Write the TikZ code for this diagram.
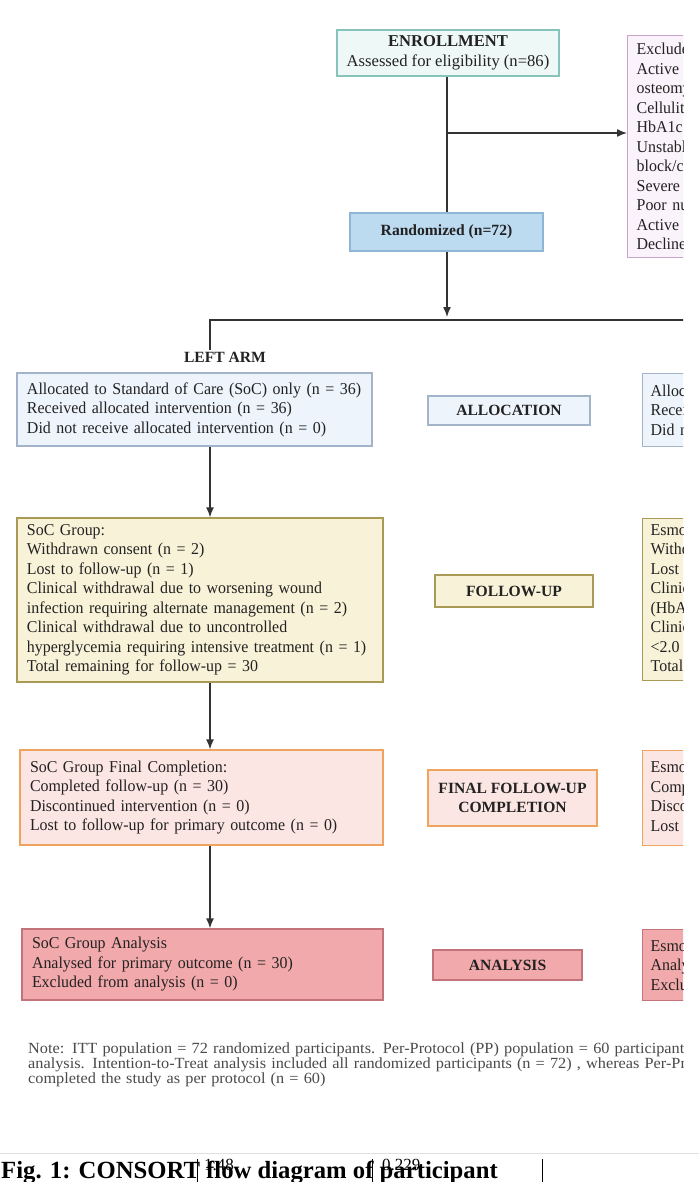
\documentclass[tikz,border=0pt]{standalone}
\usepackage{fontspec}
\setmainfont{Liberation Serif}
\newfontfamily\notefam[FakeStretch=1.05]{Liberation Serif}
\newfontfamily\bodyfam[FakeStretch=0.96]{Liberation Serif}
\usetikzlibrary{arrows.meta,calc}
\definecolor{enrF}{HTML}{EEF8F6}\definecolor{enrD}{HTML}{86C4BB}
\definecolor{excF}{HTML}{FBF3FB}\definecolor{excD}{HTML}{C9A3CB}
\definecolor{ranF}{HTML}{BCDAF0}\definecolor{ranD}{HTML}{8FB6D6}
\definecolor{allF}{HTML}{EEF4FC}\definecolor{allD}{HTML}{A3B3C9}
\definecolor{folF}{HTML}{F8F3D8}\definecolor{folD}{HTML}{A99B56}
\definecolor{finF}{HTML}{FCE6E3}\definecolor{finD}{HTML}{EEA45E}
\definecolor{anaF}{HTML}{F2A9AB}\definecolor{anaD}{HTML}{C2747A}
\definecolor{linec}{HTML}{333333}
\definecolor{notec}{HTML}{4A4A4A}
\definecolor{txtc}{HTML}{222222}
\newcommand{\bodyfont}{\bodyfam\fontsize{16.6}{19.5}\selectfont}
\newcommand{\enrfont}{\fontsize{16.6}{19.5}\selectfont}
\newcommand{\labfont}{\fontsize{15.6}{18.5}\selectfont\bfseries}
\newcommand{\notefont}{\notefam\fontsize{15.5}{14.8}\selectfont}
\begin{document}
\begin{tikzpicture}[x=1pt,y=-1pt,
  box/.style={draw, line width=1.3pt, inner xsep=0pt, inner ysep=0pt, align=left, font=\bodyfont, text=txtc},
  rbox/.style={draw, line width=1.3pt, anchor=north west, inner xsep=8pt, inner ysep=0pt, text width=140, align=left, font=\bodyfont, text=txtc},
  lab/.style={draw, line width=1.3pt, inner sep=0pt, align=center, font=\labfont, text=txtc},
  arr/.style={draw=linec, line width=1.4pt, -{Latex[length=10pt,width=8pt]}},
  ln/.style={draw=linec, line width=1.4pt}]
\useasboundingbox (0,0) rectangle (699,1182);
\fill[white] (0,0) rectangle (699,1182);
\begin{scope}
\clip (0,0) rectangle (683,1140);

% enrollment
\node[lab, font=\enrfont, fill=enrF, draw=enrD, minimum width=222, minimum height=46] (enr) at (448,53) {\textbf{ENROLLMENT}\\Assessed for eligibility (n=86)};
\node[rbox, fill=excF, draw=excD, inner xsep=9pt, minimum height=222] (exc) at (627,35) {Excluded\\Active\\osteomyelitis\\Cellulitis\\HbA1c\\Unstable\\block/c\\Severe\\Poor nutrition\\Active\\Declined};
\node[lab, fill=ranF, draw=ranD, minimum width=193, minimum height=38] (ran) at (446.5,232) {Randomized (n=72)};

\coordinate (br) at (447,133);
\draw[ln] (enr.south -| br) -- (ran.north -| br);
\draw[arr] (br) -- (br -| exc.west);

\coordinate (tip) at (447,317);
\coordinate (hl) at (210,320);
\coordinate (hr) at (699,320);
\draw[arr] (ran.south -| tip) -- (tip);
\node[font=\labfont, text=txtc, inner sep=2pt] (arm) at (225,357) {LEFT ARM};
\draw[ln] (hr) -- (hl) -- (hl |- arm.north);

% allocation row
\node[box, fill=allF, draw=allD, minimum width=355, text width=335, minimum height=73] (allL) at (194.5,409.5) {Allocated to Standard of Care (SoC) only (n = 36)\\Received allocated intervention (n = 36)\\Did not receive allocated intervention (n = 0)};
\node[lab, fill=allF, draw=allD, minimum width=162, minimum height=29] (allM) at (509,410.5) {ALLOCATION};
\node[rbox, fill=allF, draw=allD, minimum height=73] (allR) at (642,373) {Allocated to\\Received allocated\\Did not receive};

% follow-up row
\node[box, fill=folF, draw=folD, minimum width=366, text width=346, minimum height=164] (folL) at (200,600) {SoC Group:\\Withdrawn consent (n = 2)\\Lost to follow-up (n = 1)\\Clinical withdrawal due to worsening wound\\infection requiring alternate management (n = 2)\\Clinical withdrawal due to uncontrolled\\hyperglycemia requiring intensive treatment (n = 1)\\Total remaining for follow-up = 30};
\node[lab, fill=folF, draw=folD, minimum width=158, minimum height=32] (folM) at (514,591) {FOLLOW-UP};
\node[rbox, fill=folF, draw=folD, minimum height=162] (folR) at (642,518) {Esmolol Group:\\Withdrawn consent\\Lost to follow-up\\Clinical withdrawal\\(HbA1c\\Clinical withdrawal\\<2.0\\Total remaining};

% final row
\node[box, fill=finF, draw=finD, minimum width=363, text width=343, minimum height=95] (finL) at (201.5,797.5) {SoC Group Final Completion:\\Completed follow-up (n = 30)\\Discontinued intervention (n = 0)\\Lost to follow-up for primary outcome (n = 0)};
\node[lab, fill=finF, draw=finD, minimum width=169, minimum height=56] (finM) at (512.5,798) {FINAL FOLLOW-UP\\COMPLETION};
\node[rbox, fill=finF, draw=finD, minimum height=95] (finR) at (642,750) {Esmolol Group\\Completed\\Discontinued\\Lost to follow-up};

% analysis row
\node[box, fill=anaF, draw=anaD, minimum width=361, text width=341, minimum height=71] (anaL) at (202.5,964.5) {SoC Group Analysis\\Analysed for primary outcome (n = 30)\\Excluded from analysis (n = 0)};
\node[lab, fill=anaF, draw=anaD, minimum width=149, minimum height=30] (anaM) at (507.5,965) {ANALYSIS};
\node[rbox, fill=anaF, draw=anaD, minimum height=71] (anaR) at (642,929) {Esmolol Group\\Analysed\\Excluded};

% left arm arrows
\draw[arr] (allL.south -| hl) -- (folL.north -| hl);
\draw[arr] (folL.south -| hl) -- (finL.north -| hl);
\draw[arr] (finL.south -| hl) -- (anaL.north -| hl);

% note
\node[anchor=north west, align=left, font=\notefont, text=notec, inner sep=0pt, text width=900] (note) at (28,1043) {Note: ITT population = 72 randomized participants. Per-Protocol (PP) population = 60 participants\\analysis. Intention-to-Treat analysis included all randomized participants (n = 72) , whereas Per-Protocol\\completed the study as per protocol (n = 60)};
\end{scope}

% caption strip
\draw[draw=black!12, line width=1pt] (0,1153) -- (699,1153);
\node[anchor=base west, inner sep=0pt, font=\fontsize{24.7}{25}\selectfont\bfseries] (cap) at (1,1178) {Fig. 1: CONSORT flow diagram of participant};
\node[anchor=base west, inner sep=0pt, font=\fontsize{17}{17}\selectfont] (n1) at (204,1170) {1.48};
\node[anchor=base west, inner sep=0pt, font=\fontsize{17}{17}\selectfont] (n2) at (382,1170) {0.229};
\foreach \bx in {197,372,542} \draw[line width=0.8pt] (\bx,1159) -- (\bx,1182);
\end{tikzpicture}
\end{document}
